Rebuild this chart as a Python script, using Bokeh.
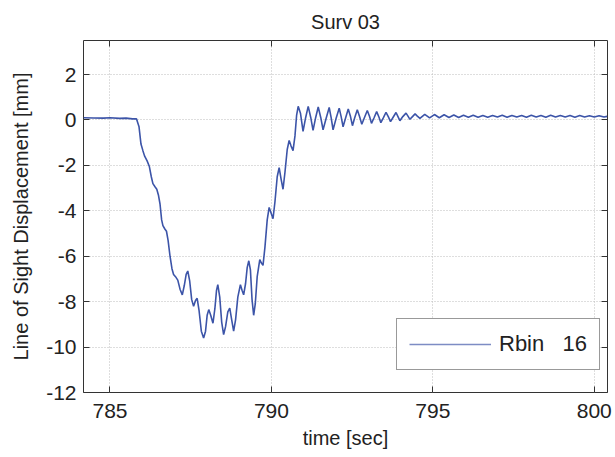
from bokeh.plotting import figure
from bokeh.models import FixedTicker, LinearAxis, Range1d, Legend, LegendItem
from bokeh.embed import file_html
from bokeh.resources import INLINE

# ---- data ----
time_s = [
    784.18, 784.50, 784.80, 785.00, 785.30, 785.50, 785.70, 785.82, 785.90, 785.96,
    786.02, 786.07, 786.15, 786.22, 786.28, 786.33, 786.40, 786.45, 786.50, 786.55,
    786.60, 786.64, 786.70, 786.75, 786.80, 786.86, 786.92, 786.97, 787.03, 787.10,
    787.17, 787.24, 787.30, 787.36, 787.41, 787.47, 787.53, 787.59, 787.65, 787.70,
    787.76, 787.83, 787.90, 787.96, 788.01, 788.06, 788.12, 788.19, 788.25, 788.30,
    788.34, 788.40, 788.46, 788.52, 788.58, 788.65, 788.71, 788.77, 788.83, 788.89,
    788.96, 789.04, 789.09, 789.14, 789.20, 789.25, 789.30, 789.35, 789.40, 789.45,
    789.50, 789.56, 789.64, 789.69, 789.74, 789.80, 789.87, 789.93, 789.99, 790.05,
    790.11, 790.18, 790.24, 790.30, 790.36, 790.42, 790.49, 790.55, 790.61, 790.67,
    790.73, 790.78, 790.83, 790.90, 790.98, 791.06, 791.14, 791.22, 791.29, 791.37,
    791.45, 791.53, 791.60, 791.70, 791.79, 791.85, 791.91, 792.00, 792.10, 792.16,
    792.22, 792.30, 792.38, 792.45, 792.51, 792.58, 792.66, 792.73, 792.80, 792.88,
    792.97, 793.04, 793.10, 793.18, 793.26, 793.33, 793.39, 793.47, 793.55, 793.62,
    793.69, 793.77, 793.86, 793.92, 793.98, 794.07, 794.17, 794.23, 794.29, 794.37,
    794.45, 794.52, 794.60, 794.75, 794.90, 795.05, 795.20, 795.35, 795.50, 795.65,
    795.80, 795.95, 796.10, 796.25, 796.40, 796.55, 796.70, 796.85, 797.00, 797.15,
    797.30, 797.45, 797.60, 797.75, 797.90, 798.05, 798.20, 798.35, 798.50, 798.65,
    798.80, 798.95, 799.10, 799.25, 799.40, 799.55, 799.70, 799.85, 800.00, 800.15,
    800.30, 800.40,
]
disp_mm = [
    0.10, 0.09, 0.08, 0.10, 0.07, 0.08, 0.05, 0.05, -0.30, -1.06,
    -1.35, -1.58, -1.80, -2.05, -2.50, -2.80, -2.95, -3.05, -3.30, -3.70,
    -4.40, -4.65, -4.80, -4.90, -5.30, -6.00, -6.55, -6.80, -6.90, -7.05,
    -7.45, -7.70, -7.30, -6.80, -6.65, -7.10, -7.90, -8.20, -7.95, -7.85,
    -8.40, -9.30, -9.60, -9.30, -8.60, -8.35, -8.60, -8.95, -8.30, -7.50,
    -7.25, -7.80, -8.90, -9.45, -9.10, -8.45, -8.28, -8.80, -9.30, -8.80,
    -7.80, -7.25, -7.50, -7.70, -7.20, -6.50, -6.20, -6.60, -7.90, -8.60,
    -8.10, -6.90, -6.15, -6.30, -6.40, -5.60, -4.40, -3.85, -4.10, -4.35,
    -3.60, -2.50, -2.10, -2.60, -3.05, -2.30, -1.30, -0.90, -1.15, -1.35,
    -0.70, 0.20, 0.60, 0.30, -0.50, 0.10, 0.60, 0.10, -0.46, 0.10,
    0.57, 0.10, -0.43, 0.10, 0.55, 0.10, -0.43, 0.05, 0.52, 0.15,
    -0.30, 0.10, 0.48, 0.15, -0.25, 0.10, 0.45, 0.15, -0.19, 0.10,
    0.42, 0.15, -0.15, 0.10, 0.37, 0.13, -0.12, 0.10, 0.34, 0.15,
    -0.07, 0.12, 0.33, 0.15, -0.03, 0.15, 0.30, 0.17, 0.03, 0.15,
    0.27, 0.17, 0.07, 0.25, 0.09, 0.24, 0.10, 0.23, 0.11, 0.22,
    0.11, 0.21, 0.12, 0.21, 0.12, 0.20, 0.12, 0.20, 0.13, 0.21,
    0.12, 0.20, 0.13, 0.20, 0.12, 0.21, 0.13, 0.20, 0.12, 0.21,
    0.13, 0.20, 0.13, 0.20, 0.12, 0.20, 0.13, 0.19, 0.13, 0.19,
    0.13, 0.16,
]
series_label = "Rbin   16"
x_ticks = [785, 790, 795, 800]
x_tick_labels = ["785", "790", "795", "800"]
y_ticks = [-12, -10, -8, -6, -4, -2, 0, 2]
y_tick_labels = ["-12", "-10", "-8", "-6", "-4", "-2", "0", "2"]
title_text = "Surv 03"
x_label = "time [sec]"
y_label = "Line of Sight Displacement [mm]"

FONT = "Liberation Sans"
TXT = "#222222"

p = figure(width=615, height=457, output_backend="svg", toolbar_location=None,
           x_range=Range1d(784.18, 800.41), y_range=Range1d(-12, 3.5),
           min_border_left=83, min_border_right=8, min_border_top=40,
           min_border_bottom=65)
p.background_fill_color = "white"
p.border_fill_color = "white"
p.outline_line_color = "#333333"
p.outline_line_width = 1

p.title.text = title_text
p.title.align = "center"
p.title.text_font = FONT
p.title.text_font_size = "20px"
p.title.text_font_style = "normal"
p.title.text_color = TXT
p.title.standoff = 16

r = p.line(time_s, disp_mm, line_color="#3c54a8", line_width=1.6)
# legend key: a single-point line (draws no segment) styled like the reference key
r_key = p.line(time_s[:1], disp_mm[:1], line_color="#7d8cc4", line_width=1.3)

def style_axis(ax, ticks, labels, show_labels=True):
    ax.ticker = FixedTicker(ticks=ticks)
    ax.major_label_overrides = {t: l for t, l in zip(ticks, labels)}
    ax.major_tick_in = 6
    ax.major_tick_out = 0
    ax.minor_tick_in = 0
    ax.minor_tick_out = 0
    ax.major_tick_line_color = "#333333"
    ax.axis_line_color = None
    ax.major_label_text_font = FONT
    ax.major_label_text_color = TXT
    ax.axis_label_text_font = FONT
    ax.axis_label_text_color = TXT
    ax.axis_label_text_font_style = "normal"
    if show_labels:
        ax.major_label_text_font_size = "21px"
        ax.axis_label_text_font_size = "20px"
    else:
        ax.major_label_text_font_size = "0px"
        ax.major_label_standoff = 0

style_axis(p.xaxis[0], x_ticks, x_tick_labels)
style_axis(p.yaxis[0], y_ticks, y_tick_labels)
p.xaxis[0].axis_label = x_label
p.yaxis[0].axis_label = y_label
p.xaxis[0].major_label_standoff = 11
p.xaxis[0].axis_label_standoff = 6
p.yaxis[0].major_label_standoff = 7
p.yaxis[0].axis_label_standoff = 11

top_ax = LinearAxis()
style_axis(top_ax, x_ticks, ["" for _ in x_ticks], show_labels=False)
p.add_layout(top_ax, "above")
right_ax = LinearAxis()
style_axis(right_ax, y_ticks, ["" for _ in y_ticks], show_labels=False)
p.add_layout(right_ax, "right")

p.xgrid.ticker = FixedTicker(ticks=x_ticks)
p.ygrid.ticker = FixedTicker(ticks=y_ticks)
for g in (p.xgrid[0], p.ygrid[0]):
    g.grid_line_color = "#bcbcbc"
    g.grid_line_dash = "1 2"
    g.grid_line_width = 1

legend = Legend(items=[LegendItem(label=series_label, renderers=[r_key])],
                location=(313, 22))
legend.border_line_color = "#333333"
legend.border_line_width = 1
legend.background_fill_color = "white"
legend.background_fill_alpha = 1
legend.padding = 12
legend.margin = 0
legend.spacing = 0
legend.glyph_width = 82
legend.glyph_height = 20
legend.label_height = 20
legend.label_standoff = 8
legend.label_text_font = FONT
legend.label_text_font_size = "22px"
legend.label_text_color = TXT
p.add_layout(legend)

open("out.html", "w").write(file_html(p, INLINE))
